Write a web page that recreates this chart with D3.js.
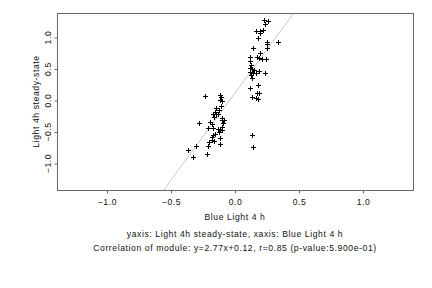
<!DOCTYPE html>
<html>
<head>
<meta charset="utf-8">
<script src="https://cdn.jsdelivr.net/npm/d3@7"></script>
<style>
  body { margin: 0; background: #fff; }
  text { font-family: "Liberation Sans", Arial, sans-serif; fill: #111; letter-spacing: 0.6px; }
</style>
</head>
<body>
<svg id="chart" width="432" height="288"></svg>
<script>
// values
var xVals = [0.227, 0.261, 0.234, 0.162, 0.193, 0.219, 0.193, 0.180, 0.250, 0.250,
  0.339, 0.141, 0.250, 0.193, 0.172, 0.120, 0.188, 0.214, 0.245, 0.120,
  0.125, 0.120, 0.136, 0.152, 0.188, 0.120, 0.141, 0.234, 0.162, 0.125,
  0.130, 0.180, 0.120, 0.172, 0.188, 0.136, 0.162, 0.183, 0.133, 0.141,
  -0.234, -0.114, -0.109, -0.120, -0.098, -0.109, -0.145, -0.125, -0.156, -0.172,
  -0.145, -0.130, -0.161, -0.104, -0.088, -0.104, -0.281, -0.198, -0.177, -0.094,
  -0.208, -0.172, -0.098, -0.114, -0.135, -0.104, -0.125, -0.156, -0.172, -0.177,
  -0.114, -0.182, -0.161, -0.203, -0.120, -0.213, -0.302, -0.364, -0.219, -0.328];
var yVals = [1.278, 1.257, 1.214, 1.098, 1.108, 1.119, 1.067, 0.992, 0.933, 0.897,
  0.929, 0.833, 0.833, 0.759, 0.695, 0.686, 0.675, 0.654, 0.654, 0.632,
  0.568, 0.516, 0.495, 0.484, 0.473, 0.452, 0.441, 0.441, 0.432, 0.400,
  0.357, 0.241, 0.198, 0.124, 0.124, 0.060, 0.040, 0.019, -0.548, -0.743,
  0.067, 0.087, 0.056, 0.013, -0.008, -0.083, -0.124, -0.146, -0.178, -0.210,
  -0.210, -0.219, -0.262, -0.273, -0.314, -0.305, -0.357, -0.337, -0.368, -0.357,
  -0.432, -0.441, -0.421, -0.452, -0.452, -0.463, -0.505, -0.527, -0.548, -0.579,
  -0.600, -0.632, -0.643, -0.663, -0.686, -0.727, -0.727, -0.790, -0.844, -0.897];
var xTicks = [-1.0, -0.5, 0.0, 0.5, 1.0];
var yTicks = [-1.0, -0.5, 0.0, 0.5, 1.0];
var slope = 2.77, intercept = 0.12;
var xLabel = "Blue Light 4 h";
var yLabel = "Light 4h steady-state";
var title1 = "yaxis: Light 4h steady-state, xaxis: Blue Light 4 h";
var title2 = "Correlation of module: y=2.77x+0.12, r=0.85 (p-value:5.900e-01)";

var svg = d3.select("#chart");
var mLeft = 57, mRight = 413, mTop = 13, mBottom = 190;
var fs = 8.6;

var x = d3.scaleLinear().domain([-1.39, 1.39]).range([mLeft, mRight]);
var y = d3.scaleLinear().domain([-1.42, 1.39]).range([mBottom, mTop]);

// regression line, clipped to the box
svg.append("clipPath").attr("id", "box")
  .append("rect").attr("x", mLeft).attr("y", mTop)
  .attr("width", mRight - mLeft).attr("height", mBottom - mTop);

var lx = x.domain();
svg.append("line")
  .attr("clip-path", "url(#box)")
  .attr("x1", x(lx[0])).attr("y1", y(slope * lx[0] + intercept))
  .attr("x2", x(lx[1])).attr("y2", y(slope * lx[1] + intercept))
  .attr("stroke", "#c8c8c8").attr("stroke-width", 1);

// points as "+" symbols
var pts = d3.zip(xVals, yVals);
svg.append("g").selectAll("path")
  .data(pts)
  .enter().append("path")
  .attr("transform", function(d) { return "translate(" + Math.round(x(d[0])) + "," + Math.round(y(d[1])) + ")"; })
  .attr("d", "M-2,0.5H3M0.5,-2V3")
  .attr("stroke", "#000").attr("stroke-width", 1)
  .attr("fill", "none");

// box
svg.append("rect")
  .attr("x", mLeft + 0.5).attr("y", mTop + 0.5)
  .attr("width", mRight - mLeft).attr("height", mBottom - mTop)
  .attr("fill", "none").attr("stroke", "#666").attr("stroke-width", 1);

// x axis
var xAxis = d3.axisBottom(x).tickValues(xTicks).tickSize(3).tickPadding(5)
  .tickFormat(d3.format(".1f"));
var gx = svg.append("g").attr("transform", "translate(0," + (mBottom + 0.5) + ")").call(xAxis);
gx.select(".domain").remove();
gx.selectAll("line").attr("stroke", "#666");
gx.selectAll("text").attr("font-size", fs).attr("font-family", null);

// y axis: ticks from the axis, labels rotated like R
var yAxis = d3.axisLeft(y).tickValues(yTicks).tickSize(3).tickFormat("");
var gy = svg.append("g").attr("transform", "translate(" + (mLeft + 0.5) + ",0)").call(yAxis);
gy.select(".domain").remove();
gy.selectAll("line").attr("stroke", "#666");

svg.append("g").selectAll("text")
  .data(yTicks)
  .enter().append("text")
  .attr("transform", function(d) { return "translate(" + (mLeft - 6) + "," + y(d) + ") rotate(-90)"; })
  .attr("text-anchor", "middle")
  .attr("font-size", fs)
  .text(d3.format(".1f"));

// labels
svg.append("text")
  .attr("x", (mLeft + mRight) / 2).attr("y", 220)
  .attr("text-anchor", "middle").attr("font-size", fs)
  .text(xLabel);

svg.append("text")
  .attr("transform", "translate(39," + ((mTop + mBottom) / 2) + ") rotate(-90)")
  .attr("text-anchor", "middle").attr("font-size", fs)
  .text(yLabel);

svg.append("text")
  .attr("x", (mLeft + mRight) / 2).attr("y", 237)
  .attr("text-anchor", "middle").attr("font-size", fs)
  .text(title1);

svg.append("text")
  .attr("x", (mLeft + mRight) / 2).attr("y", 251)
  .attr("text-anchor", "middle").attr("font-size", fs)
  .text(title2);
</script>
</body>
</html>
